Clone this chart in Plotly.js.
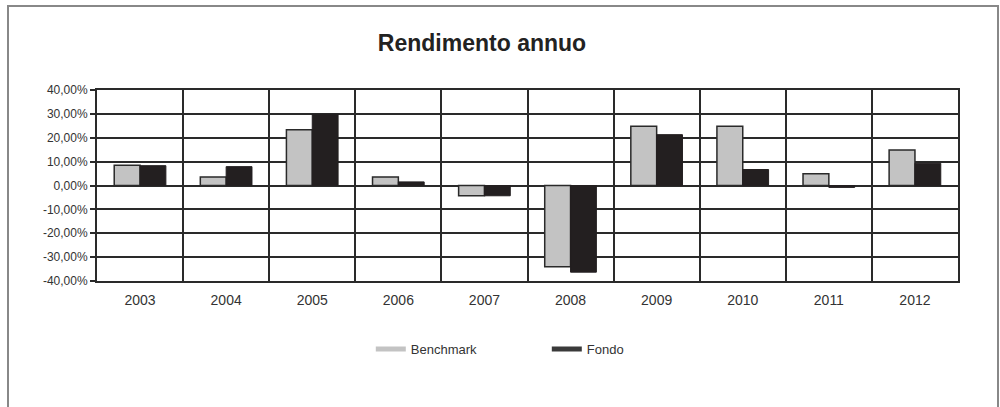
<!DOCTYPE html>
<html>
<head>
<meta charset="utf-8">
<script src="https://cdn.plot.ly/plotly-3.0.1.min.js"></script>
<style>
html,body{margin:0;padding:0;background:#fff;}
#chart{width:1000px;height:407px;}
</style>
</head>
<body>
<div id="chart"></div>
<script>
var years = ["2003","2004","2005","2006","2007","2008","2009","2010","2011","2012"];
var benchmark = [0.085, 0.036, 0.233, 0.036, -0.043, -0.340, 0.248, 0.248, 0.049, 0.149];
var fondo = [0.083, 0.079, 0.298, 0.015, -0.043, -0.363, 0.213, 0.067, -0.008, 0.093];
var yTickVals = [-0.4, -0.3, -0.2, -0.1, 0, 0.1, 0.2, 0.3, 0.4];
var yTickText = ["-40,00%","-30,00%","-20,00%","-10,00%","0,00%","10,00%","20,00%","30,00%","40,00%"];

var font = "Liberation Sans, Arial, sans-serif";
var traces = [
  {type:"bar", name:"Benchmark", x:years, y:benchmark, showlegend:false,
   marker:{color:"#C3C3C3", line:{color:"#2a2a2a", width:1.5}}},
  {type:"bar", name:"Fondo", x:years, y:fondo, showlegend:false,
   marker:{color:"#231F20", line:{color:"#231F20", width:1}}},
  {type:"scatter", mode:"lines", name:"Benchmark", x:[null], y:[null],
   line:{color:"#C3C3C3", width:5}, hoverinfo:"skip"},
  {type:"scatter", mode:"lines", name:"Fondo", x:[null], y:[null],
   line:{color:"#3a3a3a", width:5}, hoverinfo:"skip"}
];

var layout = {
  width:1000, height:407,
  paper_bgcolor:"#fff", plot_bgcolor:"#fff",
  margin:{l:97, r:42, t:90, b:126, pad:0},
  font:{family:font, color:"#333"},
  title:{text:"<b>Rendimento annuo</b>", font:{family:font, size:23, color:"#222"},
         x:0.482, xref:"container", y:0.894, yref:"container", xanchor:"center", yanchor:"middle"},
  barmode:"group", bargap:0.4, bargroupgap:0,
  xaxis:{type:"category", tickson:"boundaries", showgrid:true, gridcolor:"#2a2a2a", gridwidth:2,
         showline:true, mirror:true, linecolor:"#2a2a2a", linewidth:2, ticks:"",
         ticklabelstandoff:5,
         tickfont:{family:font, size:14, color:"#333"}, fixedrange:true},
  yaxis:{range:[-0.4,0.4], tickvals:yTickVals, ticktext:yTickText, showgrid:true,
         gridcolor:"#2a2a2a", gridwidth:2, zeroline:true, zerolinecolor:"#2a2a2a", zerolinewidth:2,
         showline:true, mirror:true, linecolor:"#2a2a2a", linewidth:2,
         ticks:"outside", ticklen:5, tickcolor:"#2a2a2a", tickwidth:2,
         tickfont:{family:font, size:12, color:"#333"}, fixedrange:true},
  legend:{orientation:"h", x:0.318, xanchor:"left", y:-0.356, yanchor:"middle",
          font:{family:font, size:13, color:"#333"}, entrywidth:131, entrywidthmode:"pixels",
          itemwidth:30, bgcolor:"rgba(0,0,0,0)"},
  shapes:[{type:"rect", xref:"paper", yref:"paper",
           x0:(8-97)/861, x1:(998-97)/861, y0:(281-420)/191, y1:(281-6)/191,
           line:{color:"#888", width:2}, fillcolor:"rgba(0,0,0,0)", layer:"below"}],
  showlegend:true
};

Plotly.newPlot("chart", traces, layout, {displayModeBar:false, staticPlot:true});
</script>
</body>
</html>
